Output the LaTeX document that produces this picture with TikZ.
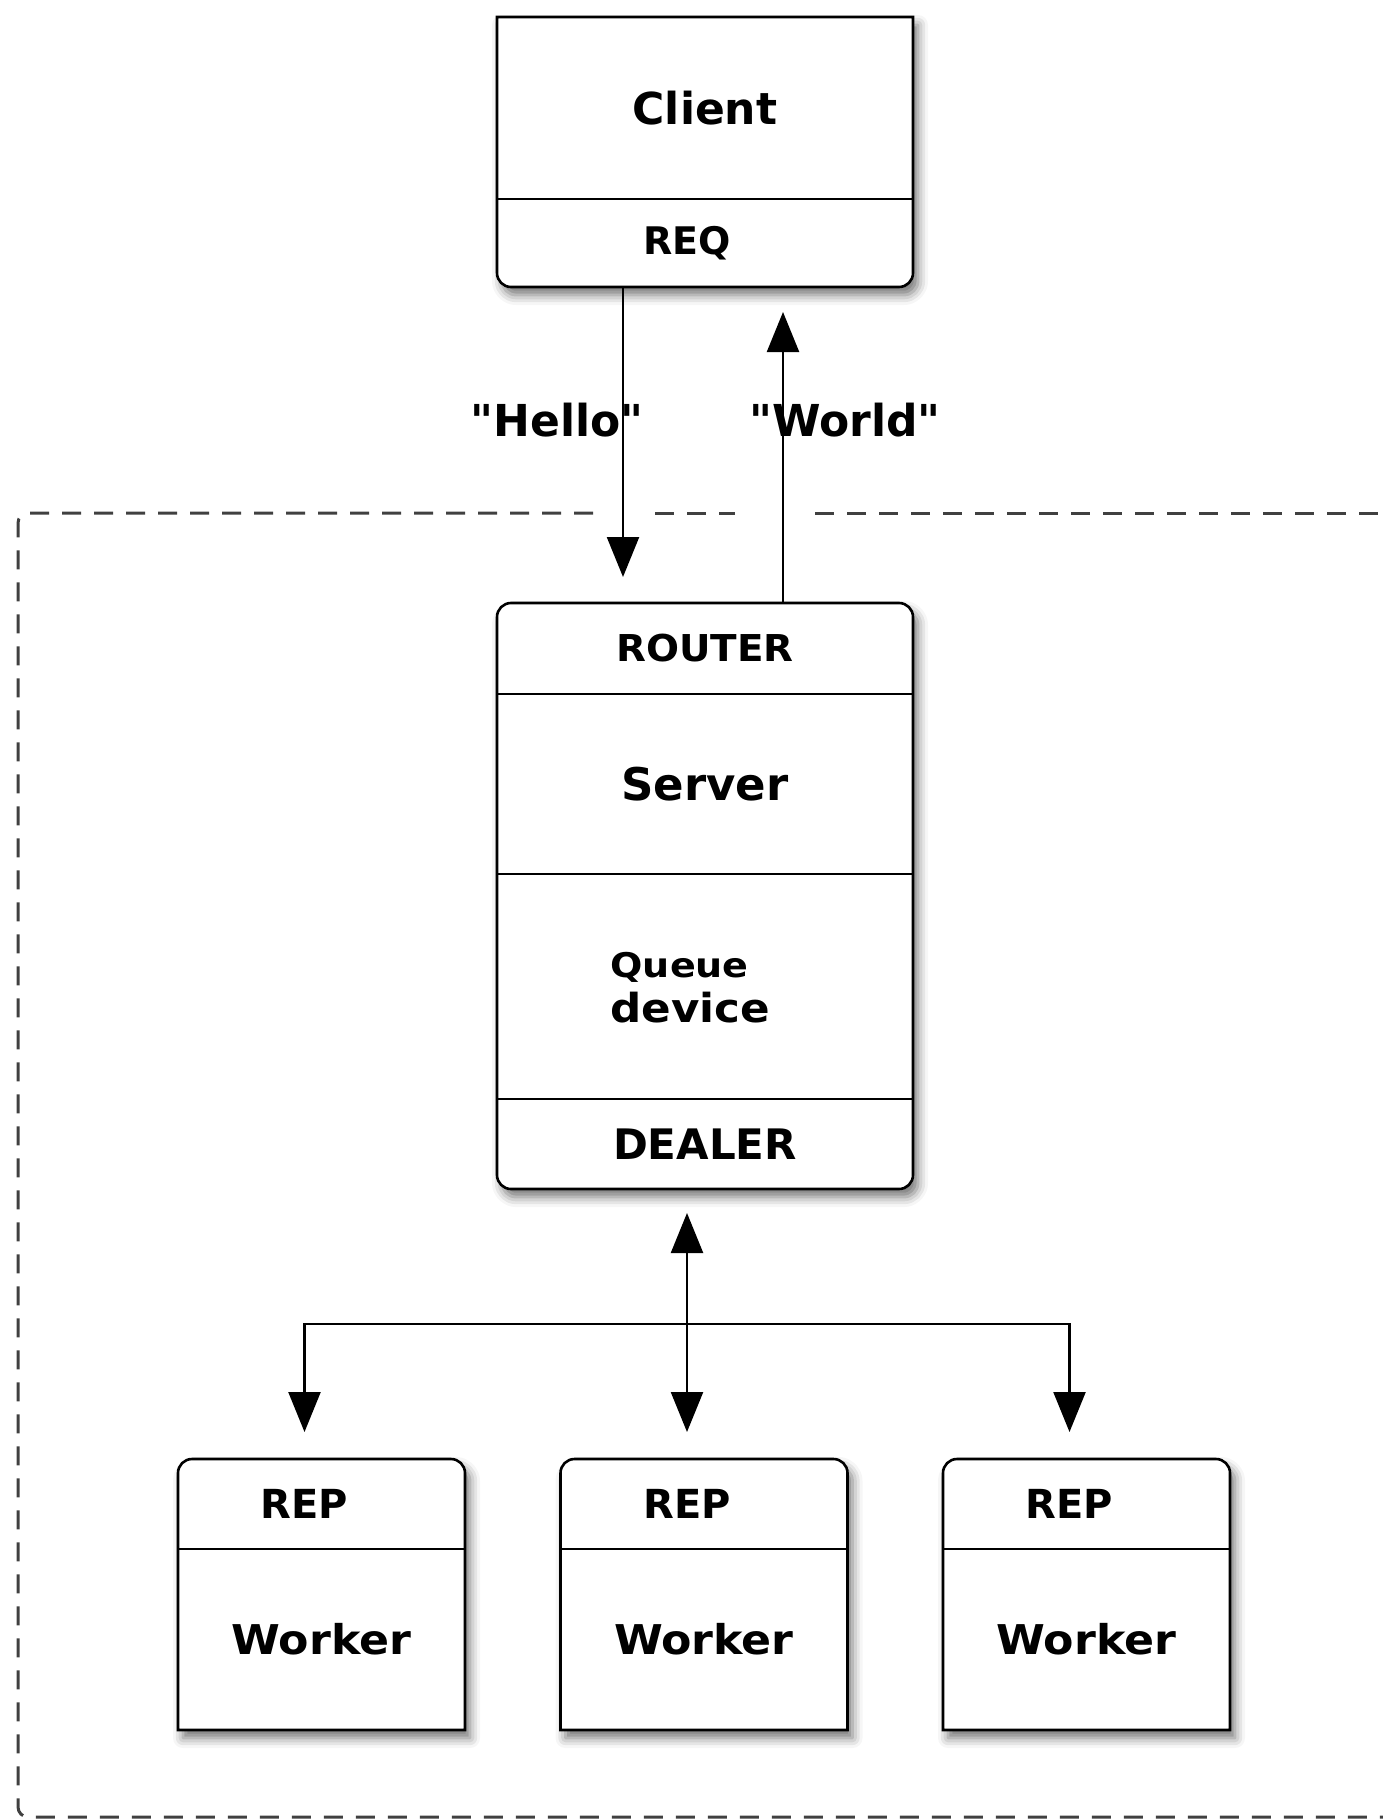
\documentclass[tikz,border=0pt]{standalone}
\usepackage{fontspec}
\setmainfont{DejaVu Sans}[Ligatures=TeXOff]
\usetikzlibrary{positioning,arrows.meta,shadows.blur,backgrounds}
\def\bw{416pt}
\def\ww{287pt}
\def\rr{14pt}
\tikzstyle{part}=[inner sep=0pt,outer sep=0pt,minimum width=\bw]
\tikzstyle{outline}=[line width=2.6pt,fill=white,blur shadow={shadow xshift=5pt,shadow yshift=-8pt,shadow blur radius=10pt,shadow opacity=55}]
\tikzstyle{divider}=[line width=2.3pt]
\tikzstyle{link}=[->,line width=2.3pt]
\tikzstyle{frame}=[line width=3pt,black!75,dash pattern=on 19pt off 13pt,rounded corners=10pt]
\newcommand{\newPart}[4]{\node[part,#3](#1)[#4]{#2};}
\newcommand{\boxText}[3]{\scalebox{#2}[1]{\fontsize{#1}{#1}\selectfont #3}}

\begin{document}
\begin{tikzpicture}[x=1pt,y=-1pt,node distance=0pt,
      >={Triangle[length=40pt,width=32pt]},
      every node/.style={font=\bfseries}
      ]
      \useasboundingbox (0,0) rectangle (1382,1819);
      % client
      \newPart{client}{\boxText{44}{1}{Client}}{minimum height=182pt}{at={(705,108)}}
      \newPart{req}{\boxText{38}{1}{REQ}\hspace*{36pt}}{minimum height=88pt}{below=of client}
      % server with queue device
      \newPart{router}{\boxText{37}{1.05}{ROUTER}}{minimum height=91pt}{at={(705,648.5)}}
      \newPart{server}{\boxText{45}{1}{Server}}{minimum height=180pt}{below=of router}
      \newPart{queue}{}{minimum height=225pt}{below=of server}
      \newPart{dealer}{\boxText{42}{1}{DEALER}}{minimum height=90pt}{below=of queue}
      \node[anchor=base west] (qline1) at ([xshift=110pt,yshift=9.5pt]queue.west) {\boxText{34}{1.12}{Queue}};
      \node[anchor=base west] (qline2) at ([xshift=110pt,yshift=-35.5pt]queue.west) {\boxText{40}{1.09}{device}};
      % workers
      \foreach \i/\x in {1/321.5,2/704,3/1086.5}{
        \newPart{rep\i}{\boxText{40}{1}{REP}\hspace*{34pt}}{minimum width=\ww,minimum height=90pt}{at={(\x,1504)}}
        \newPart{worker\i}{\boxText{41}{1.08}{Worker}}{minimum width=\ww,minimum height=181pt}{below=of rep\i}
        \draw[divider] (rep\i.south west) -- (rep\i.south east);
      }
      \draw[divider] (client.south west) -- (client.south east);
      \draw[divider] (router.south west) -- (router.south east);
      \draw[divider] (server.south west) -- (server.south east);
      \draw[divider] (queue.south west) -- (queue.south east);

      \begin{scope}[on background layer]
        \draw[outline] (client.north west) -- (client.north east) -- ([yshift=\rr]req.south east) arc[start angle=0,end angle=-90,radius=\rr] -- ([xshift=\rr]req.south west) arc[start angle=-90,end angle=-180,radius=\rr] -- cycle;
        \draw[outline,rounded corners=\rr] (router.north west) rectangle (dealer.south east);
        \foreach \i in {1,2,3}
          \draw[outline] (worker\i.south west) -- ([yshift=-\rr]rep\i.north west) arc[start angle=180,end angle=90,radius=\rr] -- ([xshift=-\rr]rep\i.north east) arc[start angle=90,end angle=0,radius=\rr] -- (worker\i.south east) -- cycle;
      \end{scope}

      % dashed device boundary
      \draw[frame] (593,513) -- (18,513) -- (18,1817) -- (1400,1817);
      \draw[frame] (655,513) -- (735,513);
      \draw[frame] (815,513) -- (1400,513);

      % request and reply
      \draw[link,shorten >=26pt] ([xshift=-82pt]req.south) -- node[pos=0.42,xshift=-66pt] (hello) {\boxText{44}{1}{"Hello"}} ([xshift=-82pt]router.north);
      \draw[link,shorten >=25pt] ([xshift=78pt]router.north) -- node[pos=0.58,xshift=62pt] (world) {\boxText{44}{1}{"World"}} ([xshift=78pt]req.south);

      % fan out to workers
      \coordinate (hub) at (687,1324);
      \draw[link,shorten >=24pt] (hub) -- (hub |- dealer.south);
      \draw[link,shorten >=27pt] (hub) -- (hub |- rep2.north);
      \draw[link,shorten >=27pt] (hub) -| ([xshift=-17pt]rep1.north);
      \draw[link,shorten >=27pt] (hub) -| ([xshift=-17pt]rep3.north);
    \end{tikzpicture}
\end{document}
